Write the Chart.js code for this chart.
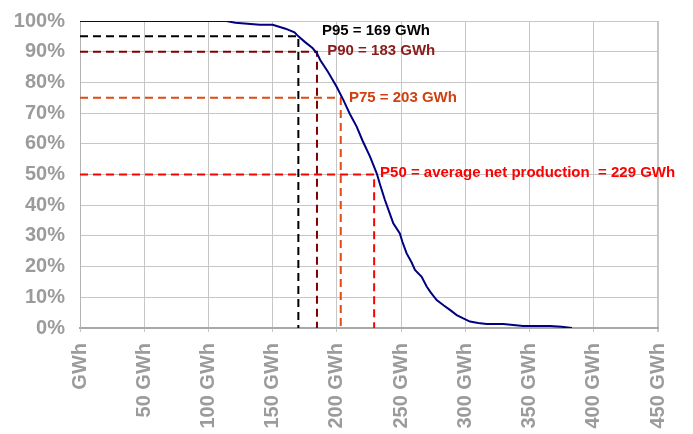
<!DOCTYPE html>
<html>
<head>
<meta charset="utf-8">
<script src="https://cdn.jsdelivr.net/npm/chart.js@4/dist/chart.umd.min.js"></script>
<style>
    html, body { margin: 0; padding: 0; background: #fff; }
</style>
</head>
<body>
<canvas id="chart" width="693" height="434"></canvas>
<script>
// Exceedance curve: net production (GWh) vs probability of exceeding it (%)
const curveGWh = [0, 114, 121, 140, 150, 160, 167, 170, 175, 181, 184.5, 187, 193, 199.8, 205, 210, 215.4, 220, 225.8, 231, 234, 237.4, 241, 243.9, 249, 251, 254.3, 258, 260.8, 266, 269.9, 273, 277.7, 283, 288, 293.3, 298, 303.6, 310, 316.6, 329.6, 345, 366, 375, 383];
const curveShare = [100, 100, 99.4, 98.8, 98.8, 97.5, 96.3, 95, 93.2, 91.2, 89.5, 87.3, 83.5, 78.6, 74.3, 69.8, 65.6, 61, 55.8, 50.4, 46.2, 41.7, 37.5, 34.1, 30.8, 28.1, 24.3, 21.5, 18.9, 16.7, 13.5, 11.6, 9.1, 7.4, 5.9, 4.2, 3.2, 2.1, 1.6, 1.3, 1.3, 0.65, 0.65, 0.4, 0];

// Percentile markers
const pLevels = [95, 90, 75, 50];
const pValues = [170, 184.5, 203, 229];
const pTexts = ["P95 = 169 GWh", "P90 = 183 GWh", "P75 = 203 GWh", "P50 = average net production  = 229 GWh"];
const pTextX = [188.4, 192.5, 209.4, 233.6];
const pTextY = [96.7, 90.2, 75.1, 50.4];
const pColors = ["#000000", "#8B1A1A", "#D04010", "#FF0000"];
const pLineColors = ["#000000", "#800000", "#E04A14", "#FF0000"];

// Axis ticks
const xTicks = [0, 50, 100, 150, 200, 250, 300, 350, 400, 450];
const yTicks = [0, 10, 20, 30, 40, 50, 60, 70, 80, 90, 100];

const gray = "#9b9b9b";
const font = "'Liberation Sans', Arial, sans-serif";

const datasets = [{
    data: curveGWh.map((g, i) => ({ x: g, y: curveShare[i] })),
    borderColor: "#000080",
    borderWidth: 2,
    showLine: true,
    pointRadius: 0,
    tension: 0
}];

pLevels.forEach((lvl, i) => {
    datasets.push({
        data: [{ x: 0, y: lvl }, { x: pValues[i], y: lvl }, { x: pValues[i], y: 0 }],
        borderColor: pLineColors[i],
        borderWidth: 2,
        borderDash: [8, 5],
        showLine: true,
        pointRadius: 0,
        tension: 0
    });
});

// Text labels next to the dashed lines
const pLabels = {
    id: "pLabels",
    afterDatasetsDraw(chart) {
        const { ctx, scales: { x, y } } = chart;
        ctx.save();
        ctx.font = "bold 15px " + font;
        ctx.textBaseline = "middle";
        ctx.textAlign = "left";
        pTexts.forEach((t, i) => {
            ctx.fillStyle = pColors[i];
            ctx.fillText(t, x.getPixelForValue(pTextX[i]), y.getPixelForValue(pTextY[i]));
        });
        ctx.restore();
    }
};

new Chart(document.getElementById("chart"), {
    type: "scatter",
    data: { datasets },
    options: {
        responsive: false,
        animation: false,
        devicePixelRatio: 1,
        layout: { padding: { top: 21, right: 35, left: 0, bottom: 0 } },
        plugins: { legend: { display: false }, tooltip: { enabled: false } },
        scales: {
            x: {
                type: "linear",
                min: 0,
                max: 450,
                afterBuildTicks: axis => { axis.ticks = xTicks.map(v => ({ value: v })); },
                afterFit: scale => { scale.height = 106; },
                grid: {
                    color: "#c6c6c6",
                    lineWidth: c => (c.tick && c.tick.value === 450 ? 2 : 1),
                    tickLength: 4,
                    drawTicks: true
                },
                border: { display: true, color: "#a8a8a8", width: 2 },
                ticks: {
                    minRotation: 90,
                    maxRotation: 90,
                    padding: 11,
                    color: gray,
                    font: { family: font, size: 20, weight: "bold" },
                    callback: v => (v === 0 ? "GWh" : v + " GWh")
                }
            },
            y: {
                min: 0,
                max: 100,
                afterBuildTicks: axis => { axis.ticks = yTicks.map(v => ({ value: v })); },
                afterFit: scale => { scale.width = 80; },
                // invisible tick marks give the label gap without padding the top
                grid: { color: "#c6c6c6", drawTicks: true, tickLength: 15, tickColor: "rgba(0,0,0,0)" },
                border: { display: true, color: "#b4b4b4", width: 1 },
                ticks: {
                    padding: 0,
                    color: gray,
                    font: { family: font, size: 20, weight: "bold" },
                    callback: v => v + "%"
                }
            }
        }
    },
    plugins: [pLabels]
});
</script>
</body>
</html>
